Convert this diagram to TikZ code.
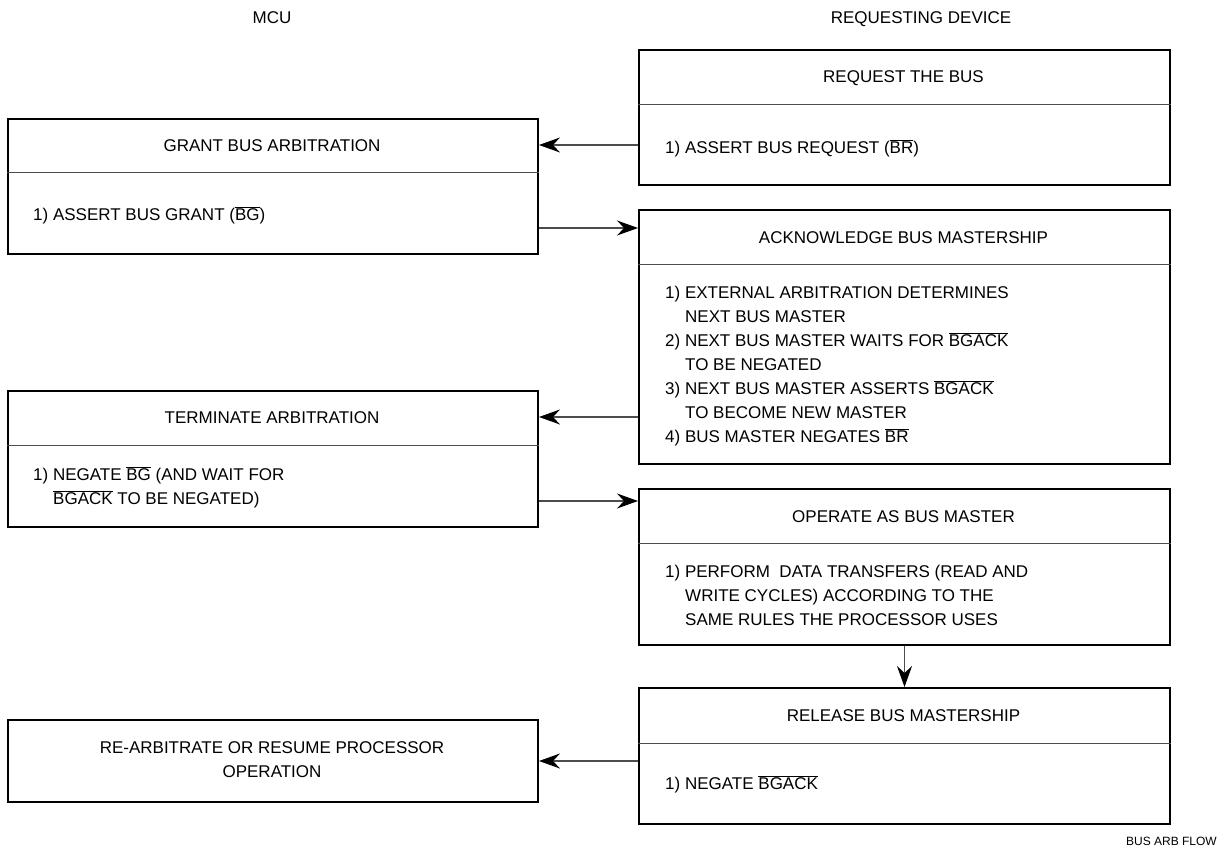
\documentclass[tikz,border=0pt]{standalone}
\usepackage{fontspec}
\setmainfont{Liberation Sans}
\usetikzlibrary{arrows.meta}
\newcommand\ovl[1]{$\overline{\mbox{#1}}$}
\begin{document}
\begin{tikzpicture}[x=1pt,y=-1pt,
  box/.style={draw=black, line width=2pt, inner sep=0pt, anchor=north west},
  div/.style={draw=black!70, line width=1pt},
  arr/.style={draw=black!70, line width=1.1pt, -{Stealth[length=21pt,width=15pt,inset=7pt,color=black,fill=black]}},
  txt/.style={inner sep=0pt, anchor=base west, font=\fontsize{17}{24}\selectfont},
  ctxt/.style={txt, anchor=base},
]
\useasboundingbox (0,0) rectangle (1225,848);

% column headers
\node[ctxt] (hmcu) at (272,24) {MCU};
\node[ctxt] (hreq) at (921,24) {REQUESTING DEVICE};

% boxes
\node[box, minimum width=531pt, minimum height=135pt] (req)   at (638,49)  {};
\node[box, minimum width=530pt, minimum height=135pt] (grant) at (7,118)   {};
\node[box, minimum width=531pt, minimum height=254pt] (ack)   at (638,209) {};
\node[box, minimum width=530pt, minimum height=136pt] (term)  at (7,390)   {};
\node[box, minimum width=531pt, minimum height=156pt] (oper)  at (638,488) {};
\node[box, minimum width=531pt, minimum height=136pt] (rel)   at (638,687) {};
\node[box, minimum width=530pt, minimum height=82pt]  (rearb) at (7,719)   {};

% dividers
\draw[div] ([yshift=-56pt]req.north west)   -- ([yshift=-56pt]req.north east);
\draw[div] ([yshift=-54pt]grant.north west) -- ([yshift=-54pt]grant.north east);
\draw[div] ([yshift=-55pt]ack.north west)   -- ([yshift=-55pt]ack.north east);
\draw[div] ([yshift=-55pt]term.north west)  -- ([yshift=-55pt]term.north east);
\draw[div] ([yshift=-55pt]oper.north west)  -- ([yshift=-55pt]oper.north east);
\draw[div] ([yshift=-56pt]rel.north west)   -- ([yshift=-56pt]rel.north east);

% texts: request
\node[ctxt] (reqT) at (903.5,83) {REQUEST THE BUS};
\node[txt] (reqB) at (665,153) {1) ASSERT BUS REQUEST (\ovl{BR})};
% grant
\node[ctxt] (grantT) at (272,151) {GRANT BUS ARBITRATION};
\node[txt] (grantB) at (33,220) {1) ASSERT BUS GRANT (\ovl{BG})};
% acknowledge
\node[ctxt] (ackT) at (903.5,243) {ACKNOWLEDGE BUS MASTERSHIP};
\node[txt] (ackB1) at (665,298) {1) EXTERNAL ARBITRATION DETERMINES};
\node[txt] (ackB2) at (685,322) {NEXT BUS MASTER};
\node[txt] (ackB3) at (665,346) {2) NEXT BUS MASTER WAITS FOR \ovl{BGACK}};
\node[txt] (ackB4) at (685,370) {TO BE NEGATED};
\node[txt] (ackB5) at (665,394) {3) NEXT BUS MASTER ASSERTS \ovl{BGACK}};
\node[txt] (ackB6) at (685,418) {TO BECOME NEW MASTER};
\node[txt] (ackB7) at (665,442) {4) BUS MASTER NEGATES \ovl{BR}};
% terminate
\node[ctxt] (termT) at (272,423) {TERMINATE ARBITRATION};
\node[txt] (termB1) at (33,480) {1) NEGATE \ovl{BG} (AND WAIT FOR};
\node[txt] (termB2) at (53,504) {\ovl{BGACK} TO BE NEGATED)};
% operate
\node[ctxt] (operT) at (903.5,522) {OPERATE AS BUS MASTER};
\node[txt] (operB1) at (665,577) {1) PERFORM\ \ DATA TRANSFERS (READ AND};
\node[txt] (operB2) at (685,601) {WRITE CYCLES) ACCORDING TO THE};
\node[txt] (operB3) at (685,625) {SAME RULES THE PROCESSOR USES};
% release
\node[ctxt] (relT) at (903.5,721) {RELEASE BUS MASTERSHIP};
\node[txt] (relB) at (665,789) {1) NEGATE \ovl{BGACK}};
% re-arbitrate
\node[ctxt] (rearb1) at (272,753) {RE-ARBITRATE OR RESUME PROCESSOR};
\node[ctxt] (rearb2) at (272,777) {OPERATION};

% footer
\node[inner sep=0pt, anchor=base east, font=\fontsize{12}{14}\selectfont] (foot) at (1217,845) {BUS ARB FLOW};

% connectors
\coordinate (y1) at (0,145);
\coordinate (y2) at (0,228);
\coordinate (y3) at (0,417);
\coordinate (y4) at (0,501);
\coordinate (y6) at (0,761);
\draw[arr] (req.west |- y1) -- (grant.east |- y1);
\draw[arr] (grant.east |- y2) -- (ack.west |- y2);
\draw[arr] (ack.west |- y3) -- (term.east |- y3);
\draw[arr] (term.east |- y4) -- (oper.west |- y4);
\draw[arr] (oper.south) -- (rel.north);
\draw[arr] (rel.west |- y6) -- (rearb.east |- y6);
\end{tikzpicture}
\end{document}
